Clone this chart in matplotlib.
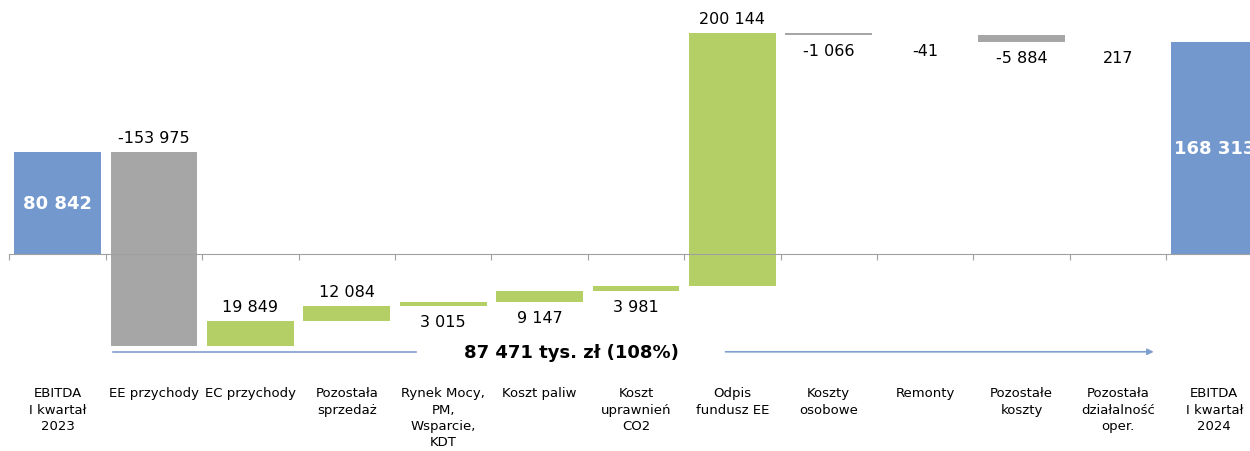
import matplotlib
matplotlib.use("Agg")
import matplotlib.pyplot as plt
from matplotlib.transforms import blended_transform_factory

plt.rcParams["savefig.bbox"] = "standard"

categories = ["EBITDA\nI kwartał\n2023", "EE przychody", "EC przychody", "Pozostała\nsprzedaż",
              "Rynek Mocy,\nPM,\nWsparcie,\nKDT", "Koszt paliw", "Koszt\nuprawnień\nCO2",
              "Odpis\nfundusz EE", "Koszty\nosobowe", "Remonty", "Pozostałe\nkoszty",
              "Pozostała\ndziałalność\noper.", "EBITDA\nI kwartał\n2024"]
values = [80842, -153975, 19849, 12084, 3015, 9147, 3981, 200144, -1066, -41, -5884, 217, 168313]
value_labels = ["80 842", "-153 975", "19 849", "12 084", "3 015", "9 147", "3 981", "200 144",
                "-1 066", "-41", "-5 884", "217", "168 313"]
is_total = [True] + [False] * 11 + [True]
label_pos = ["in", "above", "above", "above", "below", "below", "below", "above",
             "below", "below", "below", "below", "in"]
summary_text = "87 471 tys. zł (108%)"

BLUE = "#7398CE"
GRAY = "#A6A6A6"
GREEN = "#B3CF66"

fig = plt.figure(figsize=(12.5, 4.52), dpi=100)
ax = fig.add_axes([0, 0, 1, 1])

running = 0
for i, (v, tot) in enumerate(zip(values, is_total)):
    if tot:
        bottom, height, color = 0, v, BLUE
        running = v
    else:
        bottom = running
        height = v
        color = GREEN if v > 0 else GRAY
        running += v
    ax.bar(i, height, bottom=bottom, width=0.9, color=color, linewidth=0, zorder=2)
    top = max(bottom, bottom + height)
    low = min(bottom, bottom + height)
    pos = label_pos[i]
    if pos == "in":
        ax.text(i, (bottom + bottom + height) / 2, value_labels[i], ha="center", va="center",
                color="white", fontweight="bold", fontsize=13, zorder=4, clip_on=True)
    elif pos == "above":
        ax.annotate(value_labels[i], (i, top), xytext=(0, 7), textcoords="offset pixels",
                    ha="center", va="bottom", fontsize=11.5, color="black")
    else:
        ax.annotate(value_labels[i], (i, low), xytext=(0, -8), textcoords="offset pixels",
                    ha="center", va="top", fontsize=11.5, color="black")

# axis at zero
for s in ["top", "right", "left"]:
    ax.spines[s].set_visible(False)
ax.spines["bottom"].set_position(("data", 0))
ax.spines["bottom"].set_bounds(-0.5, 13)
ax.spines["bottom"].set_color("#A0A0A0")
ax.spines["bottom"].set_zorder(3)
ax.set_yticks([])
ax.set_xticks([i - 0.5 for i in range(len(categories) + 1)])
ax.set_xticklabels([])
ax.tick_params(axis="x", direction="out", length=4, color="#A0A0A0")

# limits after ticks (set_xticks would otherwise expand the view)
ax.set_xlim(-0.597, 12.37)
ax.set_ylim(-156300, 202300)

trans = blended_transform_factory(ax.transData, ax.transAxes)
for i, c in enumerate(categories):
    ax.text(i, 0.143, c, transform=trans, ha="center", va="top", fontsize=9.5,
            linespacing=1.32, color="black", clip_on=True)

# summary arrow
ax.text(5.33, -77600, summary_text, ha="center", va="center", fontsize=13,
        fontweight="bold", color="black")
ax.plot([0.58, 3.72], [-77600, -77600], color="#7F9FCF", lw=1.2)
ax.annotate("", xy=(11.4, -77600), xytext=(6.9, -77600),
            arrowprops=dict(arrowstyle="-|>", color="#7F9FCF", lw=1.2, mutation_scale=9))

fig.savefig("out.png", dpi=100)
